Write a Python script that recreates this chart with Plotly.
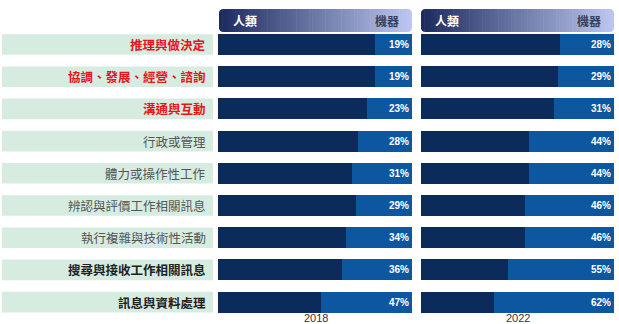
import plotly.graph_objects as go

categories = ["推理與做決定", "協調、發展、經營、諮詢", "溝通與互動", "行政或管理",
              "體力或操作性工作", "辨認與評價工作相關訊息", "執行複雜與技術性活動",
              "搜尋與接收工作相關訊息", "訊息與資料處理"]
machine_2018 = [19, 19, 23, 28, 31, 29, 34, 36, 47]
machine_2022 = [28, 29, 31, 44, 44, 46, 46, 55, 62]
years = ["2018", "2022"]
label_colors = ["#e8141c", "#e8141c", "#e8141c", "#555555", "#555555",
                "#555555", "#555555", "#222222", "#222222"]
label_bold = [True, True, True, False, False, False, False, True, True]
header_left, header_right = "人類", "機器"

W, H = 619, 324
rows = list(range(len(categories)))
human_2018 = [100 - v for v in machine_2018]
human_2022 = [100 - v for v in machine_2022]

DARK = "#0b2b5c"
LIGHT = "#0d56a0"
CJK = "Noto Sans CJK TC"

fig = go.Figure()
for xa, human, machine in [("x", human_2018, machine_2018), ("x2", human_2022, machine_2022)]:
    fig.add_trace(go.Bar(y=rows, x=human, orientation="h", xaxis=xa, yaxis="y",
                         marker=dict(color=DARK, line=dict(width=0)), width=0.65,
                         hoverinfo="skip", showlegend=False))
    fig.add_trace(go.Bar(y=rows, x=machine, orientation="h", xaxis=xa, yaxis="y",
                         marker=dict(color=LIGHT, line=dict(width=0)), width=0.65,
                         text=[f"{v}%" for v in machine], textposition="inside",
                         insidetextanchor="end", constraintext="none",
                         textfont=dict(color="white", size=10, family="Arial", weight="bold"),
                         hoverinfo="skip", showlegend=False))

shapes = []
annotations = []
# label bands
for i, cat in enumerate(categories):
    shapes.append(dict(type="rect", xref="paper", yref="y", x0=2 / W, x1=213 / W,
                       y0=i - 0.32, y1=i + 0.32, fillcolor="#d6ece0", line=dict(width=0),
                       layer="below"))
    txt = f"<b>{cat}</b>" if label_bold[i] else cat
    annotations.append(dict(xref="paper", yref="y", x=208 / W, y=i, text=txt,
                            xanchor="right", yanchor="middle", showarrow=False,
                            font=dict(family=CJK, size=12.5, color=label_colors[i])))

# gradient headers
def lerp(c1, c2, t):
    return "#%02x%02x%02x" % tuple(int(round(a + (b - a) * t)) for a, b in zip(c1, c2))

def px(x):
    return x / W

def py(y):
    return 1 - y / H

c_start, c_end = (0x1d, 0x2a, 0x5e), (0xbb, 0xc7, 0xef)
panels = [(219, 412), (421, 614)]
top_px, bot_px = 9, 32
ytop, ybot = py(top_px), py(bot_px)
n = 60
r = 4
for (px0, px1), yr in zip(panels, years):
    for k in range(n):
        a = px0 + (px1 - px0) * k / n
        b = px0 + (px1 - px0) * (k + 1) / n + 0.6
        shapes.append(dict(type="rect", xref="paper", yref="paper", x0=px(a), x1=px(min(b, px1)),
                           y0=ybot, y1=ytop, fillcolor=lerp(c_start, c_end, k / (n - 1)),
                           line=dict(width=0), layer="below"))
    # rounded-corner masks (white)
    for cx, cy, sx, sy in [(px0, top_px, 1, 1), (px1, top_px, -1, 1),
                           (px0, bot_px, 1, -1), (px1, bot_px, -1, -1)]:
        pts = [(cx, cy), (cx + sx * r, cy)]
        for j in range(1, 6):
            import math
            ang = math.pi / 2 * j / 6
            pts.append((cx + sx * r - sx * r * math.sin(ang), cy + sy * r - sy * r * math.cos(ang)))
        pts.append((cx, cy + sy * r))
        path = "M " + " L ".join(f"{px(x):.5f},{py(y):.5f}" for x, y in pts) + " Z"
        shapes.append(dict(type="path", xref="paper", yref="paper", path=path,
                           fillcolor="white", line=dict(width=0), layer="below"))
    annotations.append(dict(xref="paper", yref="paper", x=px(px0 + 12), y=(ytop + ybot) / 2,
                            text=f"<b>{header_left}</b>", xanchor="left", yanchor="middle",
                            showarrow=False, font=dict(family=CJK, size=12, color="white")))
    annotations.append(dict(xref="paper", yref="paper", x=px(px1 - 11), y=(ytop + ybot) / 2,
                            text=f"<b>{header_right}</b>", xanchor="right", yanchor="middle",
                            showarrow=False, font=dict(family=CJK, size=12, color="#3a3f58")))
    annotations.append(dict(xref="paper", yref="paper", x=px((px0 + px1) / 2), y=py(318),
                            text=yr, xanchor="center", yanchor="middle", showarrow=False,
                            font=dict(family="Arial", size=11, color="#333333")))

axis_common = dict(range=[0, 100], showgrid=False, zeroline=False, showticklabels=False,
                   ticks="", showline=False, fixedrange=True)
fig.update_layout(
    width=W, height=H, margin=dict(l=0, r=0, t=0, b=0),
    paper_bgcolor="white", plot_bgcolor="rgba(0,0,0,0)",
    barmode="stack", bargap=0,
    xaxis=dict(domain=[218 / W, 412 / W], **axis_common),
    xaxis2=dict(domain=[421 / W, 614 / W], **axis_common),
    yaxis=dict(domain=[0, 1], range=[8.680, -1.382], visible=False, fixedrange=True),
    shapes=shapes, annotations=annotations,
    uniformtext=dict(mode=False),
)
fig.write_html("out.html")
